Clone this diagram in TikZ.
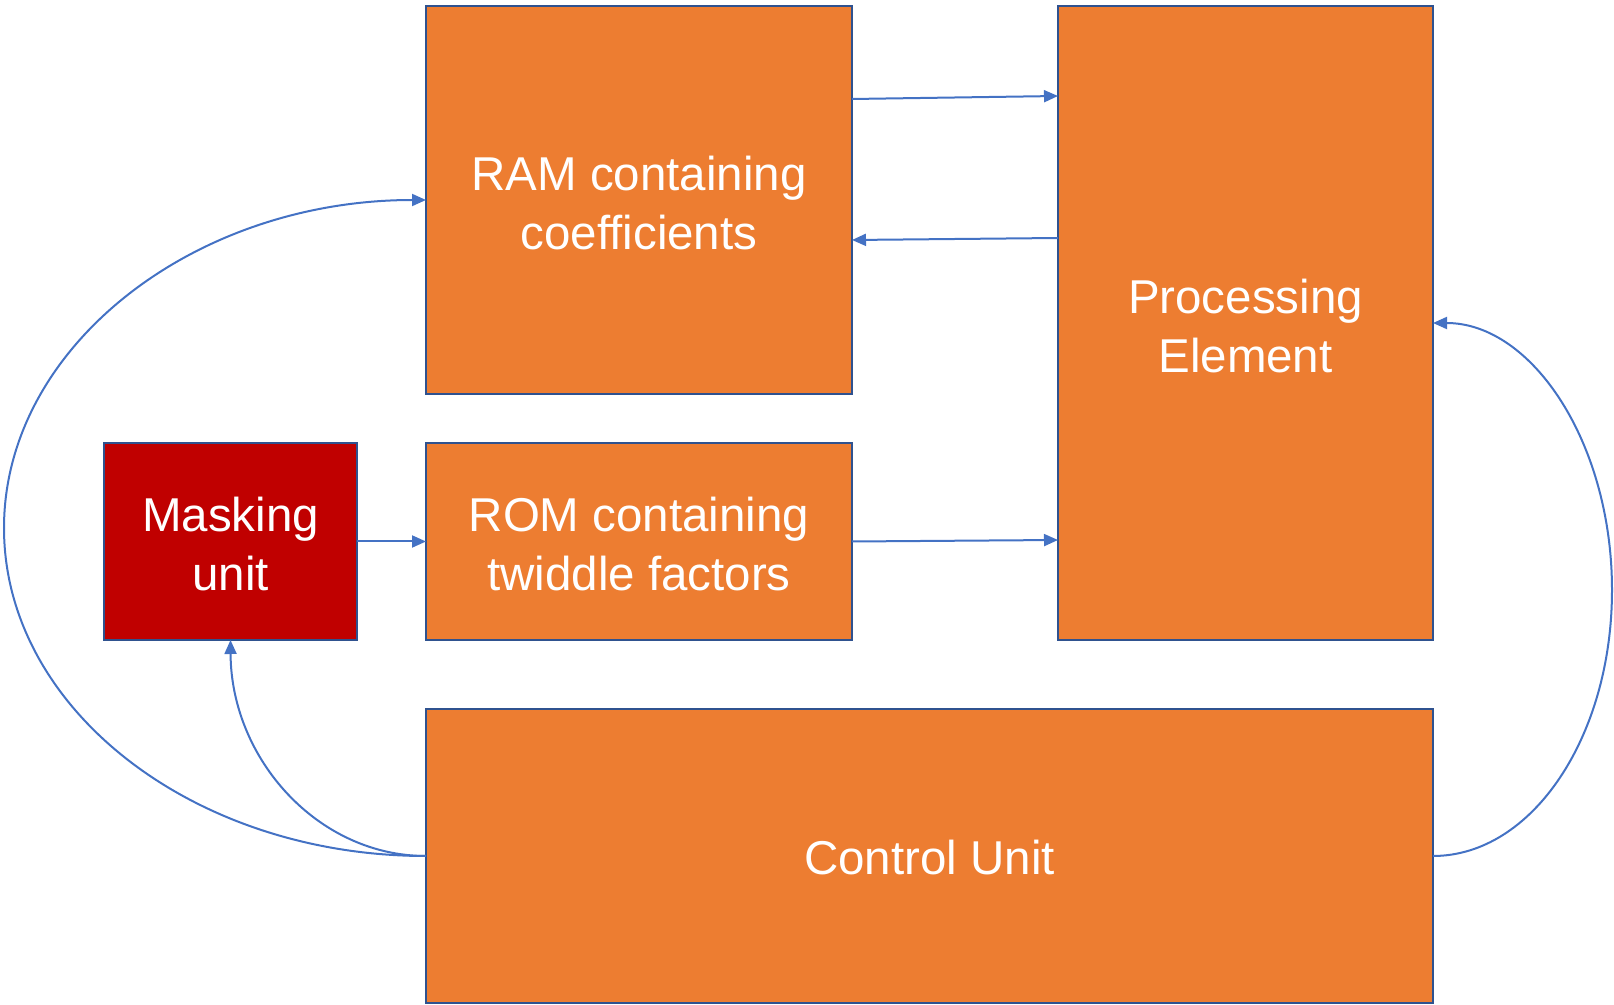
\documentclass[tikz,border=0pt]{standalone}
\usepackage{fontspec}
\setmainfont{Liberation Sans}
\usetikzlibrary{arrows.meta}

\definecolor{boxorange}{HTML}{ED7D31}
\definecolor{boxred}{HTML}{C00000}
\definecolor{boxedge}{HTML}{2F528F}
\definecolor{wire}{HTML}{4472C4}

\begin{document}
\begin{tikzpicture}[x=0.5pt, y=-0.5pt,
  block/.style={draw=boxedge, line width=1pt, fill=boxorange,
    inner sep=0pt, outer sep=0pt},
  maskblock/.style={block, fill=boxred},
  caption/.style={text=white, align=center, inner sep=0pt,
    font=\fontsize{23.75}{29.5}\selectfont},
  wirearrow/.style={draw=wire, line width=1pt,
    -{Triangle[length=7pt, width=6pt]}}
]
\useasboundingbox (0,0) rectangle (1614,1005);

% blocks
\node[block, minimum width=213pt, minimum height=194pt] (ram) at (639,200) {};
\node[block, minimum width=187.5pt, minimum height=317pt] (pe) at (1245.5,323) {};
\node[block, minimum width=213pt, minimum height=98.5pt] (rom) at (639,541.5) {};
\node[maskblock, minimum width=126.5pt, minimum height=98.5pt] (mask) at (230.5,541.5) {};
\node[block, minimum width=503.5pt, minimum height=147pt] (ctrl) at (929.5,856) {};

% block captions
\node[caption] (ramtext) at ([yshift=-1.5pt]ram.center) {RAM containing\\coefficients};
\node[caption] (petext) at ([yshift=-1.5pt]pe.center) {Processing\\Element};
\node[caption] (romtext) at ([yshift=-1.5pt]rom.center) {ROM containing\\twiddle factors};
\node[caption] (masktext) at ([yshift=-1.5pt]mask.center) {Masking\\unit};
\node[caption] (ctrltext) at ([yshift=-1pt]ctrl.center) {Control Unit};

% data paths between memories and the processing element
\draw[wirearrow] ([yshift=-46.5pt]ram.north east) -- ([yshift=-45pt]pe.north west);
\draw[wirearrow] ([yshift=-116pt]pe.north west) -- ([yshift=-117pt]ram.north east);
\draw[wirearrow] (mask.east) -- (rom.west);
\draw[wirearrow] (rom.east) -- ([yshift=50pt]pe.south west);

% control lines
\draw[wirearrow] (ctrl.west) .. controls (193,856) and (4,708.6) .. (4,528)
  .. controls (4,347.4) and (193,200) .. (ram.west);
\draw[wirearrow] (ctrl.west) .. controls (318,856) and (231,759) .. (mask.south);
\draw[wirearrow] (ctrl.east) .. controls (1532,856) and (1612,737) .. (1612,590)
  .. controls (1612,443) and (1532,323) .. (pe.east);
\end{tikzpicture}
\end{document}
